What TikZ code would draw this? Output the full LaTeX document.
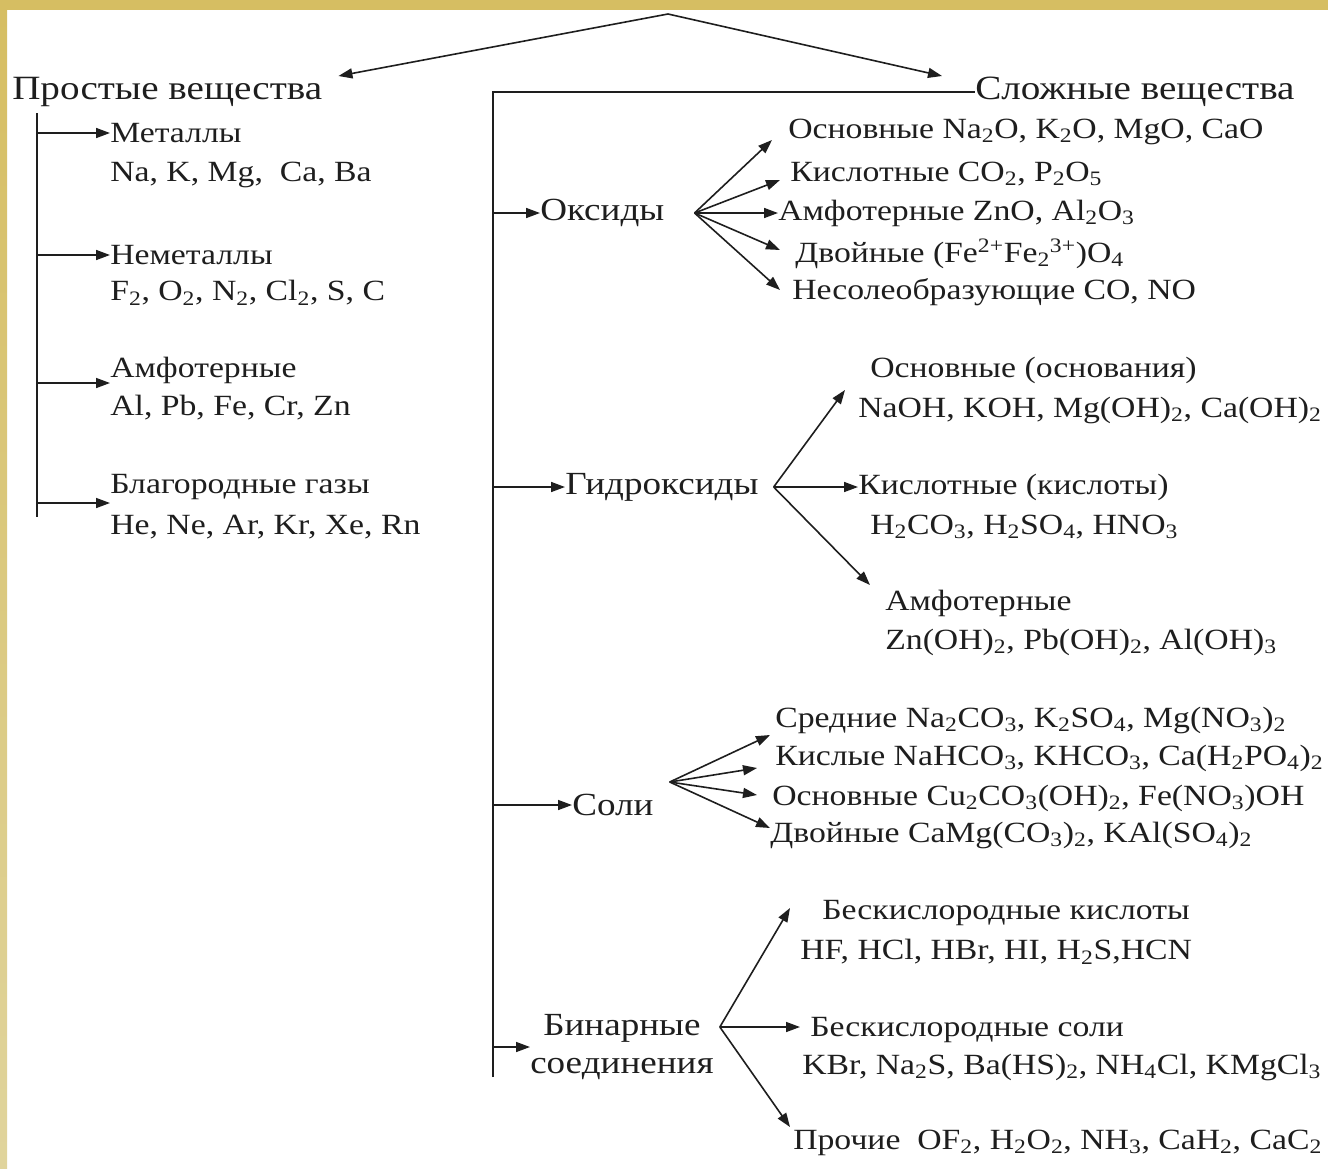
\documentclass[tikz,border=0pt]{standalone}
\usepackage{fontspec}
\setmainfont{Liberation Serif}[FakeStretch=1.15]
\usetikzlibrary{arrows.meta,calc}
\definecolor{ink}{HTML}{1E1E1E}
\definecolor{goldtop}{HTML}{D6BE62}
\definecolor{goldbot}{HTML}{E0D49C}
\newcommand{\sbs}[1]{\textsubscript{#1}}
\newcommand{\sps}[1]{\textsuperscript{#1}}

\begin{document}
\begin{tikzpicture}[x=0.75pt, y=-0.75pt, font=\fontsize{22}{26}\selectfont,
  lbl/.style={anchor=west, inner sep=0pt, text=ink},
  head/.style={lbl, font=\fontsize{25.5}{30}\selectfont},
  group/.style={lbl, font=\fontsize{24.2}{28.5}\selectfont},
  arr/.style={-{Triangle[length=10.5pt, width=7.5pt]}, line width=1.2pt, draw=ink},
  trunk/.style={line width=1.2pt, draw=ink}]
\useasboundingbox (0,0) rectangle (1328,1168);
% frame
\fill[goldtop] (0,0) rectangle (1328,10);
\shade[top color=goldtop, bottom color=goldbot] (0,0) rectangle (7,1168);

% simple substances
\node[head] (prost) at (12,92) {Простые вещества};
\node[lbl] (met) at (110,133) {Металлы};
\node[lbl] (metx) at (110,175) {Na, K, Mg,~ Ca, Ba};
\node[lbl] (nemet) at (110,255) {Неметаллы};
\node[lbl] (nemetx) at (110,293) {F\sbs{2}, O\sbs{2}, N\sbs{2}, Cl\sbs{2}, S, C};
\node[lbl] (amf) at (110,370) {Амфотерные};
\node[lbl] (amfx) at (110,408) {Al, Pb, Fe, Cr, Zn};
\node[lbl] (blag) at (110,487) {Благородные газы};
\node[lbl] (blagx) at (110,527) {He, Ne, Ar, Kr, Xe, Rn};

% complex substances
\node[head] (slozh) at (975,92) {Сложные вещества};
\node[group] (oks) at (540,213) {Оксиды};
\node[lbl] (ok1) at (788,132) {Основные Na\sbs{2}O, K\sbs{2}O, MgO, CaO};
\node[lbl] (ok2) at (790,174) {Кислотные CO\sbs{2}, P\sbs{2}O\sbs{5}};
\node[lbl] (ok3) at (778,213) {Амфотерные ZnO, Al\sbs{2}O\sbs{3}};
\node[lbl] (ok4) at (795,254) {Двойные (Fe\sps{2+}Fe\sbs{2}\sps{3+})O\sbs{4}};
\node[lbl] (ok5) at (792,292) {Несолеобразующие CO, NO};

\node[group] (gid) at (565,487) {Гидроксиды};
\node[lbl] (gd1) at (870,370) {Основные (основания)};
\node[lbl] (gd1x) at (858,410) {NaOH, KOH, Mg(OH)\sbs{2}, Ca(OH)\sbs{2}};
\node[lbl] (gd2) at (858,487) {Кислотные (кислоты)};
\node[lbl] (gd2x) at (870,527) {H\sbs{2}CO\sbs{3}, H\sbs{2}SO\sbs{4}, HNO\sbs{3}};
\node[lbl] (gd3) at (885,603) {Амфотерные};
\node[lbl] (gd3x) at (885,642) {Zn(OH)\sbs{2}, Pb(OH)\sbs{2}, Al(OH)\sbs{3}};

\node[group] (soli) at (572,805) {Соли};
\node[lbl] (sl1) at (775,720) {Средние Na\sbs{2}CO\sbs{3}, K\sbs{2}SO\sbs{4}, Mg(NO\sbs{3})\sbs{2}};
\node[lbl] (sl2) at (775,758) {Кислые NaHCO\sbs{3}, KHCO\sbs{3}, Ca(H\sbs{2}PO\sbs{4})\sbs{2}};
\node[lbl] (sl3) at (772,798) {Основные Cu\sbs{2}CO\sbs{3}(OH)\sbs{2}, Fe(NO\sbs{3})OH};
\node[lbl] (sl4) at (770,835) {Двойные CaMg(CO\sbs{3})\sbs{2}, KAl(SO\sbs{4})\sbs{2}};

\node[group, align=center] (bin) at (530,1047) {Бинарные\\соединения};
\node[lbl] (bn1) at (822,913) {Бескислородные кислоты};
\node[lbl] (bn1x) at (800,952) {HF, HCl, HBr, HI, H\sbs{2}S,HCN};
\node[lbl] (bn2) at (810,1030) {Бескислородные соли};
\node[lbl] (bn2x) at (802,1067) {KBr, Na\sbs{2}S, Ba(HS)\sbs{2}, NH\sbs{4}Cl, KMgCl\sbs{3}};
\node[lbl] (bn3) at (793,1143) {Прочие~ OF\sbs{2}, H\sbs{2}O\sbs{2}, NH\sbs{3}, CaH\sbs{2}, CaC\sbs{2}};

% top split
\coordinate (apex) at (668,14);
\draw[arr] (apex) -- ($(prost.east)+(16,-16)$);
\draw[arr] (apex) -- ($(slozh.west)+(-33,-16)$);

% left trunk
\coordinate (ltop) at (37,113);
\coordinate (lbot) at (37,517);
\draw[trunk] (ltop) -- (lbot);
\draw[arr] (ltop |- met.west) -- (met.west);
\draw[arr] (ltop |- nemet.west) -- (nemet.west);
\coordinate (amfin) at ($(amf.west)+(0,13)$);
\draw[arr] (ltop |- amfin) -- (amfin);
\coordinate (blagin) at ($(blag.west)+(0,16)$);
\draw[arr] (ltop |- blagin) -- (blagin);

% right trunk
\coordinate (rtop) at (493,92);
\coordinate (rbot) at (493,1077);
\draw[trunk] (rbot) -- (rtop) -- (slozh.west);
\draw[arr] (rtop |- oks.west) -- (oks.west);
\draw[arr] (rtop |- gid.west) -- (gid.west);
\draw[arr] (rtop |- soli.west) -- (soli.west);
\draw[arr] (rtop |- bin.west) -- (bin.west);

% oxides
\coordinate (oksfan) at ($(oks.east)+(30,0)$);
\draw[arr] (oksfan) -- ($(ok1.west)+(-16,8)$);
\draw[arr] (oksfan) -- ($(ok2.west)+(-10,6)$);
\draw[arr] (oksfan) -- (ok3.west);
\draw[arr] (oksfan) -- ($(ok4.west)+(-15,-4)$);
\draw[arr] (oksfan) -- ($(ok5.west)+(-12,-2)$);

% hydroxides
\coordinate (gidfan) at ($(gid.east)+(15,0)$);
\draw[arr] (gidfan) -- ($(gd1x.west)+(-13,-20)$);
\draw[arr] (gidfan) -- (gd2.west);
\draw[arr] (gidfan) -- ($(gd3.west)+(-15,-18)$);

% salts
\coordinate (solifan) at ($(soli.east)+(16,-23)$);
\draw[arr] (solifan) -- ($(sl1.west)+(-5,15)$);
\draw[arr] (solifan) -- ($(sl2.west)+(-18,10)$);
\draw[arr] (solifan) -- ($(sl3.west)+(-15,-3)$);
\draw[arr] (solifan) -- ($(sl4.west)+(0,-7)$);

% binary
\coordinate (binfan) at ($(bin.east)+(6,-20)$);
\draw[arr] (binfan) -- ($(bn1x.west)+(-10,-44)$);
\draw[arr] (binfan) -- ($(bn2.west)+(-10,-3)$);
\draw[arr] (binfan) -- ($(bn3.west)+(-3,-16)$);
\end{tikzpicture}
\end{document}
